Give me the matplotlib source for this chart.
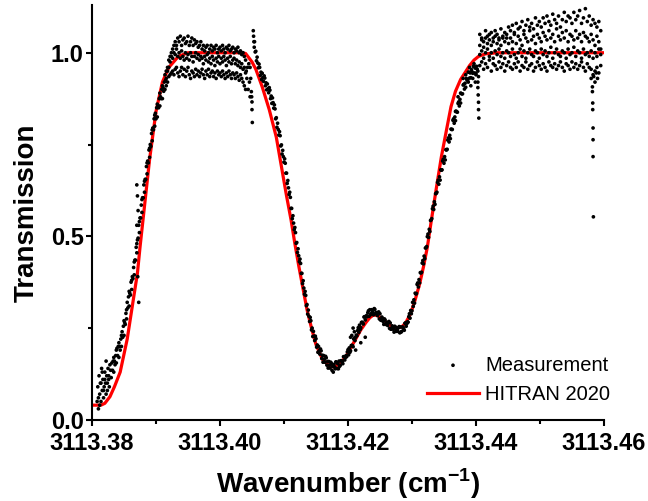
import numpy as np
import matplotlib.pyplot as plt
from matplotlib.ticker import MultipleLocator, FormatStrFormatter

plt.rcParams['font.family'] = ['Liberation Sans', 'DejaVu Sans']
plt.rcParams['mathtext.fontset'] = 'custom'
plt.rcParams['mathtext.rm'] = 'Liberation Sans'
plt.rcParams['mathtext.bf'] = 'Liberation Sans:bold'

# wavenumber offsets are in units of 1e-4 cm-1 from 3113.38
X0 = 3113.38
STEP = 1e-4

# HITRAN 2020 model
hitran_u = [0, 14, 20, 28, 35, 44, 55, 63, 71, 75, 80, 90, 100, 110, 120, 135, 150, 230, 240,
            250, 256, 266, 277, 288, 297, 304, 311, 317, 323, 330, 336, 343, 350, 360, 370, 378,
            386, 396, 404, 412, 420, 428, 434, 440, 446, 452, 459, 467, 476, 484, 490, 496, 500,
            505, 512, 518, 524, 530, 538, 546, 554, 561, 568, 576, 583, 590, 597, 604, 615, 634, 800]
hitran_t = [0.04, 0.04, 0.045, 0.063, 0.09, 0.13, 0.22, 0.31, 0.40, 0.47, 0.55, 0.71, 0.84, 0.92,
            0.96, 0.99, 1.0, 1.0, 0.998, 0.975, 0.955, 0.907, 0.845, 0.77, 0.68, 0.61, 0.545, 0.48,
            0.42, 0.355, 0.30, 0.25, 0.205, 0.165, 0.148, 0.144, 0.152, 0.17, 0.195, 0.22, 0.245,
            0.265, 0.278, 0.286, 0.284, 0.277, 0.267, 0.256, 0.25, 0.253, 0.264, 0.283, 0.30, 0.327,
            0.37, 0.417, 0.47, 0.54, 0.63, 0.717, 0.79, 0.853, 0.895, 0.927, 0.946, 0.965, 0.98,
            0.99, 0.997, 1.0, 1.0]

# measurement, read segment by segment
left_edge_u = [8, 9, 10, 11, 12, 13, 14, 15, 16, 17, 18, 19, 20, 21, 22, 23, 24, 25, 26, 27, 28,
               10, 12, 14, 16, 18, 20, 22, 24, 26]
left_edge_t = [0.05, 0.09, 0.03, 0.12, 0.07, 0.10, 0.05, 0.14, 0.08, 0.11, 0.06, 0.09, 0.13, 0.10,
               0.07, 0.12, 0.10, 0.14, 0.12, 0.09, 0.15, 0.06, 0.04, 0.10, 0.13, 0.08, 0.11, 0.16,
               0.08, 0.11]

left_rise_u = [29, 30, 31, 32, 33, 34, 35, 36, 37, 38, 39, 40, 41, 42, 43, 44, 45, 46, 47, 48, 49,
               50, 51, 52, 53, 54, 55, 56, 57, 58, 59, 60, 61, 62, 63, 64, 65, 66, 67, 68, 69, 70,
               71, 72, 73, 74, 75, 76, 77, 78, 79, 80, 81, 82, 83, 84, 85, 86, 87, 88, 89, 90, 91,
               92, 93, 94, 95, 96, 97, 98, 99, 100, 101, 102, 103, 104, 105, 106, 107, 108, 109,
               110, 111, 112, 113, 114, 115]
left_rise_t = [0.135, 0.115, 0.155, 0.135, 0.16, 0.13, 0.16, 0.15, 0.175, 0.155, 0.195, 0.175,
               0.20, 0.17, 0.20, 0.19, 0.22, 0.20, 0.24, 0.225, 0.255, 0.23, 0.265, 0.26, 0.29,
               0.275, 0.32, 0.305, 0.335, 0.31, 0.345, 0.34, 0.375, 0.355, 0.39, 0.385, 0.415,
               0.395, 0.435, 0.435, 0.47, 0.455, 0.49, 0.495, 0.53, 0.51, 0.55, 0.55, 0.585, 0.565,
               0.605, 0.605, 0.64, 0.62, 0.655, 0.655, 0.69, 0.67, 0.705, 0.70, 0.735, 0.715, 0.75,
               0.745, 0.78, 0.76, 0.795, 0.79, 0.82, 0.80, 0.835, 0.82, 0.85, 0.825, 0.855, 0.85,
               0.875, 0.855, 0.88, 0.875, 0.90, 0.875, 0.905, 0.895, 0.92, 0.90, 0.925]
left_rise_extra_u = [34, 38, 42, 46, 50, 54, 58, 62, 66, 70, 74, 78, 82, 86, 90, 94, 98, 102, 106,
                     110, 114, 70, 71, 72, 70, 71.5, 73]
left_rise_extra_t = [0.17, 0.19, 0.21, 0.23, 0.27, 0.30, 0.35, 0.38, 0.43, 0.48, 0.54, 0.60,
                     0.65, 0.70, 0.74, 0.79, 0.83, 0.86, 0.89, 0.91, 0.94, 0.64, 0.61, 0.57,
                     0.53, 0.39, 0.32]

left_plateau_u = [116, 118, 120, 122, 124, 126, 128, 130, 132, 134, 136, 138, 140, 142, 144, 146,
                  148, 150, 152, 154, 156, 158, 160, 162, 164, 166, 168, 170, 172, 174, 176, 178,
                  180, 182, 184, 186, 188, 190, 192, 194, 196, 198, 200, 202, 204, 206, 208, 210,
                  212, 214, 216, 218, 220, 222, 224, 226, 228, 230, 232, 234, 236, 238, 240]
left_plateau_hi = [0.95, 0.96, 0.98, 0.99, 1.00, 1.01, 1.02, 1.03,
                   1.02, 1.04, 1.03, 1.045, 1.02, 1.035, 1.04, 1.025, 1.03, 1.045, 1.02, 1.03,
                   1.04, 1.02, 1.035, 1.025, 1.03, 1.015, 1.02, 1.03,
                   1.01, 1.02, 1.005, 1.015, 1.02, 1.00, 1.01, 1.02, 1.005, 1.015, 1.01, 1.02,
                   1.00, 1.01, 1.015, 1.005, 1.02, 1.01, 1.00, 1.015, 1.01, 1.02, 1.005, 1.01,
                   1.015, 1.00, 1.01, 1.005, 1.015, 1.00, 1.005, 0.995, 1.00, 0.99, 0.98]
left_plateau_mid = [0.93, 0.95, 0.96, 0.975, 0.99, 0.985, 1.0, 0.995, 1.01, 0.99, 1.0, 0.985,
                    1.005, 0.99, 0.98, 1.0, 0.985, 0.995, 0.98, 1.0, 0.99, 0.975, 0.99, 1.0,
                    0.985, 0.995, 0.98, 0.99, 0.985, 0.97, 0.99, 0.98, 0.995, 0.975, 0.985,
                    0.97, 0.99, 0.98, 0.965, 0.985, 0.975, 0.99, 0.97, 0.985, 0.975, 0.99, 0.98,
                    0.965, 0.985, 0.975, 0.99, 0.97, 0.98, 0.985, 0.97, 0.98, 0.965, 0.975, 0.96,
                    0.97, 0.955, 0.96, 0.945]
left_plateau_lo = [0.91, 0.92, 0.935, 0.94, 0.945, 0.95, 0.94, 0.955, 0.96, 0.945, 0.935, 0.95,
                   0.96, 0.94, 0.955, 0.935, 0.95, 0.96, 0.94, 0.93, 0.95, 0.945, 0.935, 0.955,
                   0.94, 0.95, 0.935, 0.945, 0.955, 0.94, 0.93, 0.95, 0.94, 0.955, 0.935, 0.945,
                   0.95, 0.935, 0.945, 0.93, 0.95, 0.94, 0.945, 0.935, 0.95, 0.94, 0.93, 0.945,
                   0.935, 0.95, 0.94, 0.93, 0.945, 0.94, 0.93, 0.945, 0.935, 0.925, 0.94, 0.93,
                   0.92, 0.91, 0.90]

left_dip_u = [241, 242, 243, 244, 245, 246, 247, 247, 248, 249, 249.5, 250, 250, 250.5,
              252, 252.5, 253, 253.5]
left_dip_t = [0.95, 0.93, 0.96, 0.90, 0.97, 0.92, 0.96, 0.88, 0.93, 0.894, 0.88, 0.866, 0.845,
              0.81, 1.06, 1.045, 1.03, 1.015]

descent_u = [254, 255, 256, 257, 258, 259, 260, 261, 262, 263, 264, 265, 266, 267, 268, 269, 270,
             271, 272, 273, 274, 275, 276, 277, 278, 279, 280, 281, 282, 283, 284, 285, 286, 287,
             288, 289, 290, 291, 292, 293, 294, 295, 296, 297, 298, 299, 300, 301, 302, 303, 304,
             305, 306, 307, 308, 309, 310, 311, 312, 313, 314, 315, 316, 317, 318, 319, 320, 321,
             322, 323, 324, 325, 326, 327, 328, 329, 330, 331, 332, 333, 334, 335, 336, 337, 338,
             339, 340, 341, 342, 343, 344, 345, 346, 347, 348, 349, 350, 351, 352, 353, 354, 355,
             356, 357, 358, 359, 360, 361, 362, 363, 364, 365, 366, 367, 368, 369, 370, 371, 372,
             373, 374, 375, 376, 377, 378, 379, 380, 381, 382, 383, 384, 385]
descent_t = [1.030, 1.002, 1.004, 0.978, 0.988, 0.972, 0.959, 0.969, 0.960, 0.938, 0.947, 0.927,
             0.944, 0.932, 0.922, 0.937, 0.931, 0.910, 0.918, 0.899, 0.915, 0.902, 0.891, 0.905,
             0.898, 0.875, 0.882, 0.862, 0.877, 0.864, 0.849, 0.858, 0.847, 0.820, 0.823, 0.797,
             0.808, 0.791, 0.776, 0.785, 0.774, 0.746, 0.749, 0.724, 0.734, 0.717, 0.702, 0.711,
             0.699, 0.672, 0.672, 0.644, 0.652, 0.632, 0.614, 0.620, 0.606, 0.576, 0.576, 0.548,
             0.556, 0.536, 0.518, 0.524, 0.510, 0.481, 0.483, 0.456, 0.466, 0.447, 0.431, 0.438,
             0.426, 0.399, 0.399, 0.371, 0.379, 0.359, 0.342, 0.350, 0.339, 0.311, 0.314, 0.288,
             0.299, 0.282, 0.268, 0.279, 0.270, 0.245, 0.250, 0.227, 0.241, 0.228, 0.216, 0.228,
             0.221, 0.198, 0.204, 0.184, 0.200, 0.188, 0.179, 0.193, 0.188, 0.167, 0.176, 0.157,
             0.175, 0.165, 0.157, 0.173, 0.169, 0.149, 0.159, 0.141, 0.159, 0.149, 0.141, 0.157,
             0.154, 0.135, 0.146, 0.130, 0.151, 0.144, 0.139, 0.158, 0.157, 0.140, 0.153, 0.139]

bump_a_u = [386, 388, 390, 392, 394, 396, 398, 400, 402, 404, 406, 408, 410, 412, 414, 416, 418,
            420, 422, 424, 426, 428, 430, 432, 434, 436, 438, 440, 442, 444, 446, 448, 450, 452,
            454, 456, 458, 460, 462, 464, 466, 468, 470, 472, 474, 476, 478, 480, 482, 484, 486,
            488, 490, 492, 494, 496, 498, 500]
bump_a_t = [0.160, 0.149, 0.161, 0.153, 0.172, 0.170, 0.172, 0.191, 0.196, 0.188, 0.203, 0.199,
            0.223, 0.225, 0.229, 0.251, 0.258, 0.251, 0.266, 0.261, 0.281, 0.280, 0.281, 0.297,
            0.300, 0.289, 0.298, 0.286, 0.301, 0.292, 0.284, 0.294, 0.289, 0.271, 0.276, 0.260,
            0.272, 0.264, 0.257, 0.268, 0.264, 0.247, 0.253, 0.239, 0.253, 0.245, 0.241, 0.254,
            0.253, 0.241, 0.252, 0.244, 0.264, 0.262, 0.266, 0.289, 0.298, 0.297]
bump_b_u = [387, 389, 391, 393, 395, 397, 399, 401, 403, 405, 407, 409, 411, 413, 415, 417, 419,
            421, 423, 425, 427, 429, 431, 433, 435, 437, 439, 441, 443, 445, 447, 449, 451, 453,
            455, 457, 459, 461, 463, 465, 467, 469, 471, 473, 475, 477, 479, 481, 483, 485, 487,
            489, 491, 493, 495, 497, 499]
bump_b_t = [0.146, 0.161, 0.158, 0.172, 0.163, 0.175, 0.185, 0.177, 0.184, 0.202, 0.202, 0.220,
            0.216, 0.231, 0.243, 0.238, 0.246, 0.265, 0.264, 0.280, 0.272, 0.284, 0.292, 0.282,
            0.286, 0.300, 0.293, 0.303, 0.289, 0.292, 0.292, 0.275, 0.272, 0.280, 0.268, 0.275,
            0.260, 0.264, 0.266, 0.249, 0.247, 0.256, 0.247, 0.255, 0.241, 0.247, 0.251, 0.237,
            0.239, 0.253, 0.248, 0.263, 0.255, 0.267, 0.281, 0.277, 0.289]
bump_extra_u = [404, 406, 408, 410, 412, 420, 427]
bump_extra_t = [0.225, 0.23, 0.25, 0.24, 0.19, 0.21, 0.225]

right_rise_u = [501, 502, 503, 504, 505, 506, 507, 508, 509, 510, 511, 512, 513, 514, 515, 516,
                517, 518, 519, 520, 521, 522, 523, 524, 525, 526, 527, 528, 529, 530, 531, 532,
                533, 534, 535, 536, 537, 538, 539, 540, 541, 542, 543, 544, 545, 546, 547, 548,
                549, 550, 551, 552, 553, 554, 555, 556, 557, 558, 559, 560, 561, 562, 563, 564,
                565, 566, 567, 568, 569, 570, 571, 572, 573, 574, 575, 576, 577, 578, 579, 580,
                581, 582, 583, 584, 585, 586, 587, 588, 589, 590, 591, 592, 593, 594, 595, 596,
                597, 598, 599, 600, 601, 602]
right_rise_t = [0.320, 0.309, 0.327, 0.318, 0.345, 0.343, 0.344, 0.369, 0.373, 0.362, 0.382,
                0.373, 0.401, 0.400, 0.402, 0.427, 0.434, 0.425, 0.446, 0.439, 0.468, 0.469,
                0.472, 0.499, 0.506, 0.497, 0.519, 0.513, 0.543, 0.545, 0.548, 0.575, 0.582,
                0.573, 0.594, 0.587, 0.616, 0.617, 0.620, 0.647, 0.653, 0.642, 0.662, 0.653,
                0.681, 0.680, 0.681, 0.705, 0.710, 0.699, 0.717, 0.708, 0.736, 0.735, 0.737,
                0.762, 0.768, 0.757, 0.775, 0.766, 0.792, 0.791, 0.791, 0.816, 0.820, 0.808,
                0.825, 0.815, 0.841, 0.839, 0.838, 0.862, 0.866, 0.855, 0.873, 0.863, 0.889,
                0.888, 0.888, 0.912, 0.914, 0.901, 0.917, 0.906, 0.930, 0.926, 0.925, 0.947,
                0.947, 0.931, 0.945, 0.932, 0.954, 0.948, 0.944, 0.963, 0.962, 0.945, 0.958,
                0.943, 0.963, 0.955]
right_rise_extra_u = [568, 572, 576, 580, 584, 588, 590, 592, 595, 597, 599, 600]
right_rise_extra_t = [0.84, 0.88, 0.89, 0.93, 0.94, 0.92, 0.96, 0.91, 0.93, 0.97, 0.92, 0.94]

right_dip_u = [603, 603, 603.5, 604, 604, 604.5, 603, 604]
right_dip_t = [0.92, 0.905, 0.885, 0.865, 0.845, 0.822, 0.95, 0.935]

right_plateau_u = [606, 609, 612, 615, 618, 621, 624, 627, 630, 633, 636, 639, 642, 645, 648, 651,
                   654, 657, 660, 663, 666, 669, 672, 675, 678, 681, 684, 687, 690, 693, 696, 699,
                   702, 705, 708, 711, 714, 717, 720, 723, 726, 729, 732, 735, 738, 741, 744, 747,
                   750, 753, 756, 759, 762, 765, 768, 771, 774, 777, 780, 783, 786, 789, 792, 795]
right_plateau_lo = [0.965, 0.975, 0.955, 0.97, 0.96, 0.98, 0.95, 0.97, 0.965, 0.955,
                    0.975, 0.96, 0.97, 0.95, 0.965, 0.975, 0.96, 0.955, 0.97, 0.96,
                    0.975, 0.95, 0.965, 0.96, 0.975, 0.955, 0.965, 0.97, 0.95, 0.96,
                    0.975, 0.965, 0.955, 0.97, 0.96, 0.95, 0.975, 0.965, 0.96, 0.97,
                    0.955, 0.965, 0.975, 0.96, 0.95, 0.97, 0.965, 0.955, 0.975, 0.96,
                    0.97, 0.955, 0.965, 0.975, 0.96, 0.95, 0.97, 0.96, 0.955, 0.94,
                    0.95, 0.96, 0.945, 0.965]
right_plateau_mid = [0.995, 1.005, 0.985, 1.0, 1.01, 0.99, 1.0, 0.985, 1.005, 0.995,
                     1.01, 0.99, 1.0, 0.985, 1.005, 1.0, 0.99, 1.01, 0.995, 0.985,
                     1.0, 1.01, 0.99, 1.005, 0.985, 1.0, 1.01, 0.995, 0.99, 1.005,
                     1.0, 0.985, 1.01, 0.995, 1.005, 0.99, 1.0, 1.015, 0.985, 1.0,
                     1.01, 0.995, 0.99, 1.005, 1.0, 0.985, 1.01, 0.995, 1.0, 1.015,
                     0.99, 1.005, 1.0, 0.985, 1.01, 0.995, 1.0, 0.99, 1.005, 0.985,
                     1.0, 0.99, 1.01, 0.995]
right_plateau_hi = [1.02, 1.035, 1.015, 1.04, 1.025, 1.05, 1.02, 1.03, 1.045, 1.025, 1.035,
                    1.02, 1.04, 1.03, 1.05, 1.025,
                    1.04, 1.03, 1.055, 1.025, 1.045, 1.035, 1.02, 1.05, 1.04, 1.03, 1.06,
                    1.035, 1.045, 1.025, 1.05, 1.04,
                    1.03, 1.055, 1.045, 1.035, 1.06, 1.04, 1.05, 1.03, 1.065, 1.045, 1.035,
                    1.055, 1.04, 1.06, 1.03, 1.05,
                    1.045, 1.035, 1.06, 1.04, 1.05, 1.03, 1.055, 1.045, 1.04, 1.03, 1.05,
                    1.035, 1.02, 1.045, 1.03, 1.01]
right_plateau_top = [1.05, 1.04, 1.03, 1.06, 1.045, 1.035, 1.055, 1.04, 1.06, 1.05, 1.04,
                     1.065, 1.045, 1.055, 1.04, 1.07,
                     1.06, 1.075, 1.05, 1.08, 1.065, 1.07, 1.085, 1.06, 1.075, 1.09, 1.07,
                     1.08, 1.065, 1.095, 1.075, 1.085,
                     1.07, 1.095, 1.08, 1.1, 1.085, 1.075, 1.105, 1.09, 1.08, 1.1, 1.07,
                     1.09, 1.11, 1.085, 1.1, 1.095,
                     1.08, 1.11, 1.09, 1.1, 1.115, 1.08, 1.095, 1.12, 1.085, 1.1, 1.075,
                     1.09, 1.08, 1.07, 1.085, 1.06]

right_edge_u = [782, 782, 782.5, 782.5, 783, 783, 783, 783.5, 780, 784, 786, 788, 790]
right_edge_t = [0.907, 0.894, 0.863, 0.845, 0.795, 0.763, 0.717, 0.553, 0.93, 0.935, 0.92,
                0.945, 0.93]

meas_u = np.concatenate([
    left_edge_u, left_rise_u, left_rise_extra_u,
    left_plateau_u, left_plateau_u, left_plateau_u, left_dip_u,
    descent_u, bump_a_u, bump_b_u, bump_extra_u,
    right_rise_u, right_rise_extra_u, right_dip_u,
    right_plateau_u, right_plateau_u, right_plateau_u, right_plateau_u, right_edge_u])
meas_t = np.concatenate([
    left_edge_t, left_rise_t, left_rise_extra_t,
    left_plateau_hi, left_plateau_mid, left_plateau_lo, left_dip_t,
    descent_t, bump_a_t, bump_b_t, bump_extra_t,
    right_rise_t, right_rise_extra_t, right_dip_t,
    right_plateau_lo, right_plateau_mid, right_plateau_hi, right_plateau_top, right_edge_t])

meas_x = X0 + meas_u * STEP
hitran_x = X0 + np.array(hitran_u) * STEP

fig = plt.figure(figsize=(6.48, 5.01), dpi=100)
ax = fig.add_axes([0.142, 0.162, 0.79, 0.828])

ax.plot(hitran_x, hitran_t, color='red', lw=2.3, zorder=2, label='HITRAN 2020')
ax.scatter(meas_x, meas_t, s=7, color='black', edgecolors='none', zorder=3, label='Measurement')

ax.set_xlim(3113.38, 3113.46)
ax.set_ylim(0, 1.13)
ax.xaxis.set_major_locator(MultipleLocator(0.02))
ax.xaxis.set_minor_locator(MultipleLocator(0.01))
ax.xaxis.set_major_formatter(FormatStrFormatter('%.2f'))
ax.yaxis.set_major_locator(MultipleLocator(0.5))
ax.yaxis.set_minor_locator(MultipleLocator(0.25))
ax.yaxis.set_major_formatter(FormatStrFormatter('%.1f'))

for s in ['top', 'right']:
    ax.spines[s].set_visible(False)
for s in ['left', 'bottom']:
    ax.spines[s].set_linewidth(1.5)

ax.tick_params(which='major', length=4, width=1.5, labelsize=17)
ax.tick_params(which='minor', length=3, width=1.5)
ax.tick_params(axis='x', pad=5)
ax.tick_params(axis='y', pad=2)
for lab in ax.get_xticklabels() + ax.get_yticklabels():
    lab.set_fontweight('bold')

ax.set_xlabel(r'Wavenumber (cm$^{\mathbf{-1}}$)', fontsize=20, fontweight='bold', labelpad=8)
ax.set_ylabel('Transmission', fontsize=20, fontweight='bold', labelpad=8)

handles, labels = ax.get_legend_handles_labels()
ax.legend(handles[::-1], labels[::-1], loc='upper left', bbox_to_anchor=(0.654, 0.155),
          frameon=False, fontsize=14.5, handlelength=2.6, handletextpad=0.3,
          labelspacing=0.5, borderpad=0, borderaxespad=0, markerscale=1.0)

fig.savefig('out.png', dpi=100)
